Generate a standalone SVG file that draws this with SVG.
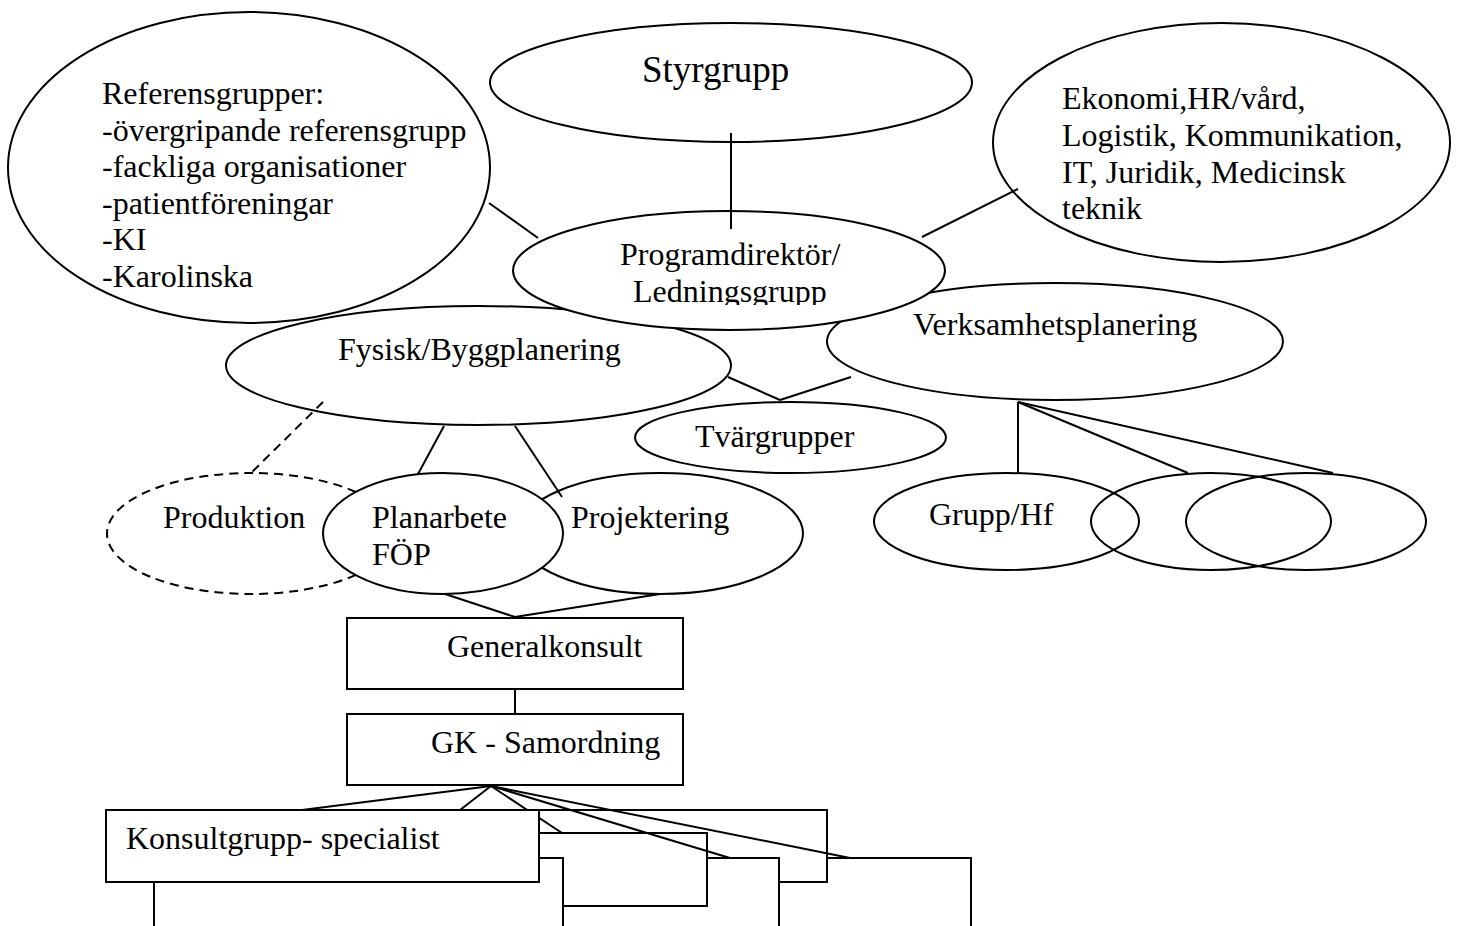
<svg xmlns="http://www.w3.org/2000/svg" width="1458" height="926" viewBox="0 0 1458 926">
<defs>
<style>
.n{fill:#fff;stroke:#000;stroke-width:2}
.o{fill:none;stroke:#000;stroke-width:2}
.d{fill:none;stroke:#000;stroke-width:2;stroke-dasharray:9 6}
.t{font-family:"Liberation Serif","Times New Roman",serif;font-size:32px;fill:#000}
.c line{stroke:#000;stroke-width:2}
</style>
<clipPath id="clipProg"><rect x="513" y="215" width="432" height="90"/></clipPath>
</defs>
<rect width="1458" height="926" fill="#fff"/>

<g id="referensgrupper">
<ellipse class="o" cx="249" cy="167.5" rx="241" ry="155.5"/>
<text class="t" x="102" y="104">Referensgrupper:</text>
<text class="t" x="102" y="141">-övergripande referensgrupp</text>
<text class="t" x="102" y="177">-fackliga organisationer</text>
<text class="t" x="102" y="214">-patientföreningar</text>
<text class="t" x="102" y="250">-KI</text>
<text class="t" x="102" y="287">-Karolinska</text>
</g>

<g id="styrgrupp">
<ellipse class="n" cx="731" cy="82.5" rx="241" ry="59.5"/>
<text class="t" x="642" y="82" style="font-size:37px">Styrgrupp</text>
</g>

<g id="ekonomi">
<ellipse class="n" cx="1221.5" cy="142.5" rx="228.5" ry="119.5"/>
<text class="t" x="1062" y="109">Ekonomi,HR/vård,</text>
<text class="t" x="1062" y="146">Logistik, Kommunikation,</text>
<text class="t" x="1062" y="183">IT, Juridik, Medicinsk</text>
<text class="t" x="1062" y="219">teknik</text>
</g>

<g id="fysisk">
<ellipse class="o" cx="478.5" cy="365.5" rx="252.5" ry="59.5"/>
<text class="t" x="338" y="360">Fysisk/Byggplanering</text>
</g>

<g id="verksamhetsplanering">
<ellipse class="n" cx="1055" cy="341.5" rx="228" ry="58.5"/>
<text class="t" x="913" y="335">Verksamhetsplanering</text>
</g>

<g id="programdirektor">
<ellipse class="n" cx="729" cy="270.5" rx="216" ry="59.5"/>
<g clip-path="url(#clipProg)">
<text class="t" x="620" y="265">Programdirektör/</text>
<text class="t" x="633" y="302">Ledningsgrupp</text>
</g>
</g>

<g id="tvargrupper">
<ellipse class="n" cx="790.5" cy="437.5" rx="155.5" ry="35.5"/>
<text class="t" x="695" y="447">Tvärgrupper</text>
</g>

<g id="produktion">
<ellipse class="d" cx="251" cy="533.5" rx="144" ry="60.5"/>
<text class="t" x="163" y="528">Produktion</text>
</g>

<g id="projektering">
<ellipse class="n" cx="660" cy="533.5" rx="143" ry="60.5"/>
<text class="t" x="571" y="528">Projektering</text>
</g>

<g id="planarbete">
<ellipse class="n" cx="443" cy="533.5" rx="120" ry="60.5"/>
<text class="t" x="372" y="528">Planarbete</text>
<text class="t" x="372" y="565">FÖP</text>
</g>

<g id="grupp-hf">
<ellipse class="o" cx="1006.5" cy="521.5" rx="132.5" ry="48.5"/>
<text class="t" x="929" y="525">Grupp/Hf</text>
</g>
<g id="grupp-2">
<ellipse class="o" cx="1211" cy="521.5" rx="120" ry="48.5"/>
</g>
<g id="grupp-3">
<ellipse class="o" cx="1306" cy="521.5" rx="120" ry="48.5"/>
</g>

<g id="generalkonsult">
<rect class="n" x="347" y="618" width="336" height="71"/>
<text class="t" x="447" y="657">Generalkonsult</text>
</g>

<g id="gk-samordning">
<rect class="n" x="347" y="714" width="336" height="71"/>
<text class="t" x="431" y="753">GK - Samordning</text>
</g>

<g id="konsult-5">
<rect class="n" x="600" y="858" width="371" height="100"/>
</g>
<g id="konsult-2">
<rect class="n" x="300" y="810" width="527" height="72"/>
</g>
<g id="konsult-4">
<rect class="n" x="400" y="858" width="379" height="100"/>
</g>
<g id="konsult-3">
<rect class="n" x="300" y="833" width="407" height="73"/>
</g>
<g id="konsult-6">
<rect class="n" x="154" y="858" width="409" height="100"/>
</g>

<g id="connectors" class="c">
<line x1="731" y1="133" x2="731" y2="229"/>
<line x1="489" y1="203" x2="538" y2="238"/>
<line x1="922" y1="237" x2="1018" y2="189"/>
<line x1="728" y1="377" x2="780" y2="400"/>
<line x1="780" y1="400" x2="851" y2="377"/>
<line x1="444" y1="426" x2="418" y2="474"/>
<line x1="515" y1="426" x2="562" y2="497"/>
<line x1="323" y1="402" x2="251" y2="473" stroke-dasharray="9 6"/>
<line x1="1018" y1="402" x2="1018" y2="473"/>
<line x1="1018" y1="402" x2="1188" y2="473"/>
<line x1="1018" y1="402" x2="1333" y2="473"/>
<line x1="445" y1="594" x2="515" y2="617"/>
<line x1="660" y1="594" x2="515" y2="617"/>
<line x1="515" y1="689" x2="515" y2="714"/>
<line x1="491" y1="786" x2="302" y2="810"/>
<line x1="491" y1="786" x2="460" y2="810"/>
<line x1="491" y1="786" x2="562" y2="833"/>
<line x1="491" y1="786" x2="730" y2="858"/>
<line x1="491" y1="786" x2="850" y2="858"/>
</g>

<g id="konsultgrupp">
<rect class="n" x="106" y="810" width="433" height="72"/>
<text class="t" x="126" y="849">Konsultgrupp- specialist</text>
</g>
</svg>
